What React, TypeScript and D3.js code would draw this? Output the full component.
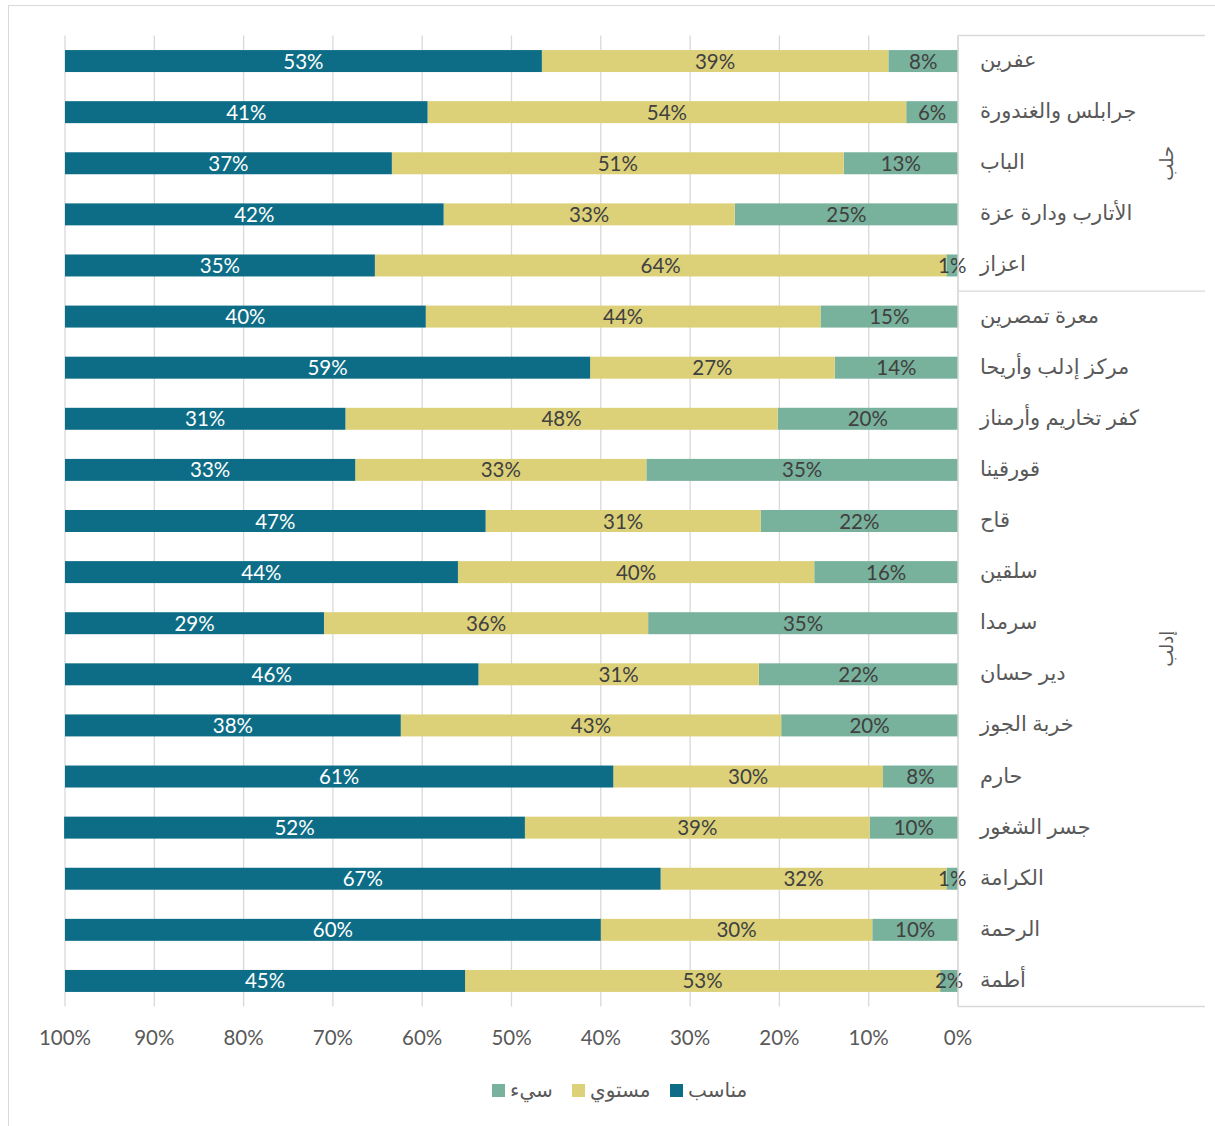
import { useRef, useEffect } from "react";
import * as d3 from "d3";

// المناطق من الأعلى إلى الأسفل
const regions = [
  "عفرين",
  "جرابلس والغندورة",
  "الباب",
  "الأتارب ودارة عزة",
  "اعزاز",
  "معرة تمصرين",
  "مركز إدلب وأريحا",
  "كفر تخاريم وأرمناز",
  "قورقينا",
  "قاح",
  "سلقين",
  "سرمدا",
  "دير حسان",
  "خربة الجوز",
  "حارم",
  "جسر الشغور",
  "الكرامة",
  "الرحمة",
  "أطمة",
];

// percentages
const bad = [7.8, 5.8, 12.8, 25.0, 1.3, 15.4, 13.8, 20.2, 34.9, 22.1, 16.1, 34.7, 22.3, 19.8, 8.4, 9.9, 1.3, 9.6, 2.0];
const medium = [38.8, 53.6, 50.6, 32.6, 64.0, 44.2, 27.4, 48.4, 32.6, 30.8, 39.9, 36.3, 31.4, 42.6, 30.2, 38.6, 32.0, 30.4, 53.2];
const good = [53.4, 40.6, 36.6, 42.4, 34.7, 40.4, 58.8, 31.4, 32.5, 47.1, 44.0, 29.0, 46.3, 37.6, 61.4, 51.6, 66.7, 60.0, 44.8];

const seriesNames = ["سيء", "مستوي", "مناسب"];
const seriesColors = ["#78b19c", "#dcd178", "#0d6d86"];
const labelColors = ["#404040", "#404040", "#ffffff"];

// groups on the right side (first index, last index, label)
const groups: [number, number, string][] = [
  [0, 4, "حلب"],
  [5, 18, "إدلب"],
];

const xTicks = [0, 10, 20, 30, 40, 50, 60, 70, 80, 90, 100];

const W = 1215;
const H = 1126;
const FONT = "Lato, 'DejaVu Sans', sans-serif";

const App = () => {
  const ref = useRef<SVGSVGElement | null>(null);

  useEffect(() => {
    const svg = d3.select(ref.current);
    svg.selectAll("*").remove();

    const left = 65;
    const right = 958;
    const top = 35.5;
    const bottom = 1006.5;

    // reversed axis: 100% on the left, 0% on the right
    const x = d3.scaleLinear().domain([100, 0]).range([left, right]);
    const y = d3
      .scaleBand<string>()
      .domain(regions)
      .range([top, bottom])
      .paddingInner(0.57)
      .paddingOuter(0.285);

    // outer border
    svg
      .append("rect")
      .attr("x", 8.5)
      .attr("y", 5.5)
      .attr("width", 1215)
      .attr("height", 1130)
      .attr("fill", "#fff")
      .attr("stroke", "#d9d9d9");

    // gridlines
    svg
      .append("g")
      .selectAll("line")
      .data(xTicks)
      .join("line")
      .attr("x1", (d) => x(d))
      .attr("x2", (d) => x(d))
      .attr("y1", top)
      .attr("y2", bottom)
      .attr("stroke", "#d9d9d9")
      .attr("stroke-width", 1.3);

    // tick labels
    svg
      .append("g")
      .selectAll("text")
      .data(xTicks)
      .join("text")
      .attr("x", (d) => x(d))
      .attr("y", 1045)
      .attr("text-anchor", "middle")
      .attr("font-family", FONT)
      .attr("font-size", 20.5)
      .attr("fill", "#595959")
      .text((d) => d + "%");

    // stacked rows: سيء from 0, then مستوي, then مناسب
    const rows = regions.map((name, i) => ({ name, vals: [bad[i], medium[i], good[i]] }));
    const segs = rows.flatMap((r) => {
      let acc = 0;
      return r.vals.map((v, k) => {
        const s = { name: r.name, k, v, x0: acc, x1: acc + v };
        acc += v;
        return s;
      });
    });

    svg
      .append("g")
      .selectAll("rect")
      .data(segs)
      .join("rect")
      .attr("x", (d) => x(d.x1))
      .attr("width", (d) => x(d.x0) - x(d.x1))
      .attr("y", (d) => y(d.name) as number)
      .attr("height", y.bandwidth())
      .attr("fill", (d) => seriesColors[d.k]);

    svg
      .append("g")
      .selectAll("text")
      .data(segs)
      .join("text")
      .attr("x", (d) => (x(d.x0) + x(d.x1)) / 2)
      .attr("y", (d) => (y(d.name) as number) + y.bandwidth() / 2 + 7.5)
      .attr("text-anchor", "middle")
      .attr("font-family", FONT)
      .attr("font-size", 20.5)
      .attr("fill", (d) => labelColors[d.k])
      .text((d) => Math.round(d.v) + "%");

    // category axis line and group separators
    svg
      .append("line")
      .attr("x1", right)
      .attr("x2", right)
      .attr("y1", top)
      .attr("y2", bottom)
      .attr("stroke", "#d9d9d9")
      .attr("stroke-width", 1.3);

    const sepY = [top, (y(regions[5]) as number) - (y.step() - y.bandwidth()) / 2, bottom];
    svg
      .append("g")
      .selectAll("line")
      .data(sepY)
      .join("line")
      .attr("x1", right)
      .attr("x2", 1205)
      .attr("y1", (d) => d)
      .attr("y2", (d) => d)
      .attr("stroke", "#d9d9d9")
      .attr("stroke-width", 1.3);

    // category labels
    svg
      .append("g")
      .selectAll("text")
      .data(regions)
      .join("text")
      .attr("x", 980)
      .attr("y", (d) => (y(d) as number) + y.bandwidth() / 2 + 6)
      .attr("direction", "rtl")
      .attr("text-anchor", "end")
      .attr("font-family", FONT)
      .attr("font-size", 21)
      .attr("fill", "#595959")
      .text((d) => d);

    // group labels (rotated)
    svg
      .append("g")
      .selectAll("text")
      .data(groups)
      .join("text")
      .attr("transform", (d) => {
        const cy =
          ((y(regions[d[0]]) as number) + (y(regions[d[1]]) as number) + y.bandwidth()) / 2;
        return `translate(1167,${cy}) rotate(-90)`;
      })
      .attr("text-anchor", "middle")
      .attr("dy", "0.35em")
      .attr("font-family", FONT)
      .attr("font-size", 18)
      .attr("fill", "#595959")
      .text((d) => d[2]);

    // legend
    const legendX = [492, 572, 670];
    const lg = svg
      .append("g")
      .selectAll("g")
      .data(seriesNames)
      .join("g")
      .attr("transform", (_, i) => `translate(${legendX[i]},1084)`);
    lg.append("rect")
      .attr("width", 13)
      .attr("height", 13)
      .attr("fill", (_, i) => seriesColors[i]);
    lg.append("text")
      .attr("x", 18)
      .attr("y", 13)
      .attr("font-family", FONT)
      .attr("font-size", 20)
      .attr("fill", "#595959")
      .text((d) => d);
  }, []);

  return (
    <div style={{ position: "absolute", left: 0, top: 0 }}>
      <svg ref={ref} width={W} height={H} />
    </div>
  );
};

export default App;
